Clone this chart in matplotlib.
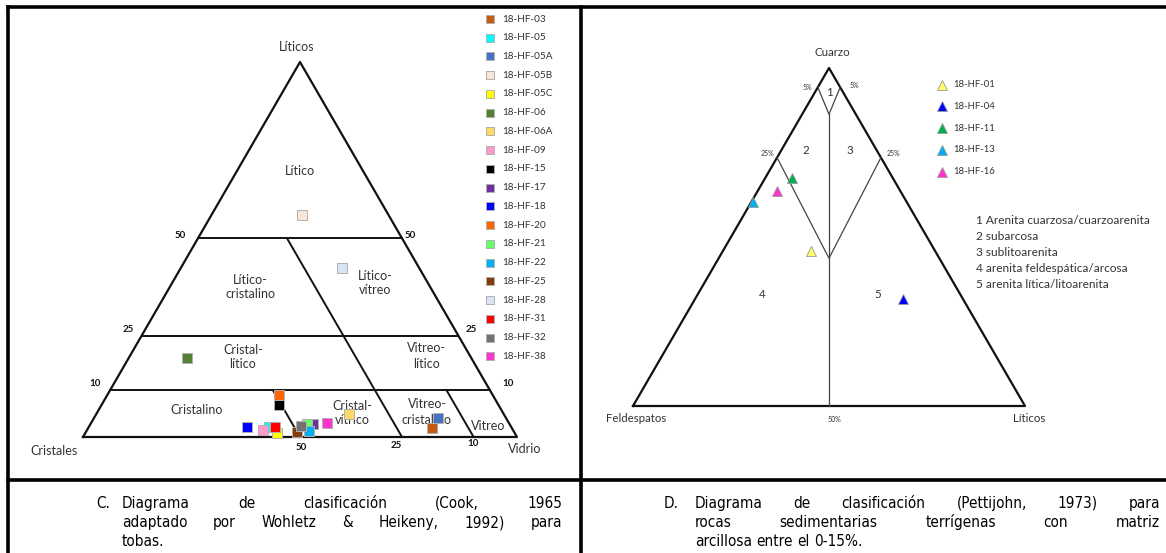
import matplotlib
matplotlib.use('Agg')
import matplotlib.pyplot as plt
from matplotlib import font_manager

# ---- data: panel C (Cristales, Vidrio, Liticos) in %
tobas_names = ['18-HF-03', '18-HF-05', '18-HF-05A', '18-HF-05B', '18-HF-05C', '18-HF-06',
               '18-HF-06A', '18-HF-09', '18-HF-15', '18-HF-17', '18-HF-18', '18-HF-20',
               '18-HF-21', '18-HF-22', '18-HF-25', '18-HF-28', '18-HF-31', '18-HF-32', '18-HF-38']
tobas_cristales = [18.3, 55.8, 15.6, 19.9, 54.9, 65.5, 35.6, 57.5, 50.5, 45.2, 60.9, 49.2,
                   46.8, 47.2, 50.0, 17.9, 54.4, 48.3, 42.0]
tobas_vidrio = [79.2, 41.6, 79.2, 20.9, 44.1, 13.4, 58.3, 40.6, 40.9, 51.4, 36.5, 39.6,
                49.8, 51.2, 48.7, 37.1, 43.0, 48.7, 54.3]
tobas_liticos = [2.5, 2.6, 5.2, 59.2, 1.0, 21.1, 6.1, 1.9, 8.6, 3.4, 2.6, 11.2,
                 3.4, 1.6, 1.3, 45.0, 2.6, 3.0, 3.7]
tobas_colors = ['#c55a11', '#00ffff', '#4472c4', '#fbe5d6', '#ffff00', '#548235',
                '#ffd966', '#ff99cc', '#000000', '#7030a0', '#0000ff', '#ff6600',
                '#66ff66', '#00b0f0', '#843c0c', '#dae3f3', '#ff0000', '#767171', '#ff33cc']

# ---- data: panel D (Cuarzo, Feldespatos, Liticos) in %
are_names = ['18-HF-01', '18-HF-04', '18-HF-11', '18-HF-13', '18-HF-16']
are_cuarzo = [46.0, 31.6, 67.4, 60.3, 63.7]
are_feldes = [31.7, 15.2, 25.8, 39.3, 31.4]
are_liticos = [22.3, 53.2, 6.8, 0.4, 4.9]
are_colors = ['#ffff66', '#0000ff', '#00b050', '#00b0f0', '#ff33cc']

# field boundaries (C, V, L) %
cook_lines = [
    [(47, 0, 53), (0, 47, 53)],
    [(73, 0, 27), (0, 73, 27)],
    [(87.5, 0, 12.5), (0, 87.5, 12.5)],
    [(26.5, 20.5, 53), (26.5, 73.5, 0)],
    [(50, 37.5, 12.5), (50, 50, 0)],
    [(10, 77.5, 12.5), (10, 90, 0)],
]
# (Q, F, L) %
pett_lines = [
    [(94.3, 5.7, 0), (86.3, 6.85, 6.85), (94.3, 0, 5.7)],
    [(86.3, 6.85, 6.85), (0, 50, 50)],
    [(73.5, 26.5, 0), (43.7, 28.15, 28.15), (73.5, 0, 26.5)],
]

pett_list = ['1 Arenita cuarzosa/cuarzoarenita', '2 subarcosa', '3 sublitoarenita',
             '4 arenita feldespática/arcosa', '5 arenita lítica/litoarenita']


# narrow font for the captions, if one is installed
def narrow_font():
    best = None
    for f in font_manager.fontManager.ttflist:
        n = (f.fname + ' ' + f.name).lower()
        if ('narrow' in n or 'condensed' in n) and 'bold' not in n and 'italic' not in n \
                and 'oblique' not in n and 'mono' not in n and 'serif' not in n.replace('sans', ''):
            if 'liberation' in n:
                return font_manager.FontProperties(fname=f.fname), True
            if best is None:
                best = f.fname
    if best:
        return font_manager.FontProperties(fname=best), True
    return font_manager.FontProperties(family='Liberation Sans'), False


cap_fp, is_narrow = narrow_font()
cap_fp.set_size(11 if is_narrow else 10)
dia_font = ['Lato', 'DejaVu Sans']

fig = plt.figure(figsize=(11.66, 5.53), dpi=100)
ax = fig.add_axes([0, 0, 1, 1])
ax.set_xlim(0, 1166)
ax.set_ylim(553, 0)
ax.axis('off')


# left triangle: Cristales BL, Vidrio BR, Liticos top
def tl(c, v, l):
    s = c + v + l
    v, l = v / s, l / s
    return 83 + 434 * (v + l / 2), 437 - 375 * l


# right triangle: Feldespatos BL, Liticos BR, Cuarzo top
def tr(q, f, l):
    s = q + f + l
    q, l = q / s, l / s
    return 633 + 392 * (l + q / 2), 406 - 338 * q


# table borders
bk = dict(color='black', lw=2.6, solid_capstyle='projecting')
ax.plot([8, 1166], [7, 7], **bk)
ax.plot([8, 8], [7, 553], **bk)
ax.plot([581, 581], [7, 553], **bk)
ax.plot([8, 1166], [480, 480], **bk)

# ---- panel C
out = [tl(100, 0, 0), tl(0, 100, 0), tl(0, 0, 100), tl(100, 0, 0)]
ax.plot([p[0] for p in out], [p[1] for p in out], color='#111111', lw=1.6, zorder=2)
for seg in cook_lines:
    pts = [tl(*p) for p in seg]
    ax.plot([p[0] for p in pts], [p[1] for p in pts], color='#111111', lw=1.4, zorder=2)

for i, name in enumerate(tobas_names):
    x, y = tl(tobas_cristales[i], tobas_vidrio[i], tobas_liticos[i])
    ax.plot(x, y, marker='s', ms=6.5, mfc=tobas_colors[i], mec='#b0b0b0', mew=0.7, zorder=4)
    ly = 19 + i * 18.74
    ax.plot(490, ly, marker='s', ms=6, mfc=tobas_colors[i], mec='#b0b0b0', mew=0.7)
    ax.text(502, ly, name, fontsize=7.2, family=dia_font, color='#333333', va='center', ha='left')

lab = dict(fontsize=9, family=dia_font, color='#333333', ha='center', va='center', linespacing=1.3)
ax.text(300, 171, 'Lítico', **lab)
ax.text(250, 287, 'Lítico-\ncristalino', **lab)
ax.text(375, 283, 'Lítico-\nvítreo', **lab)
ax.text(243, 357, 'Cristal-\nlítico', **lab)
ax.text(426, 356, 'Vitreo-\nlítico', **lab)
ax.text(197, 410, 'Cristalino', **lab)
ax.text(352, 413, 'Cristal-\nvítrico', **lab)
ax.text(427, 412, 'Vitreo-\ncristalino', **lab)
ax.text(488, 426, 'Vitreo', **lab)
ax.text(297, 47, 'Líticos', **lab)
ax.text(54, 451, 'Cristales', **lab)
ax.text(525, 449, 'Vidrio', **lab)

tk = dict(fontsize=7, family=dia_font, weight='bold', color='#111111', ha='center', va='center')
for txt, x, y in [('50', 180, 236), ('50', 410, 235), ('25', 128, 329), ('25', 471, 329),
                  ('10', 95, 384), ('10', 508, 383), ('50', 301, 447), ('25', 396, 446),
                  ('10', 473, 443)]:
    ax.text(x, y, txt, **tk)

# ---- panel D
out = [tr(0, 100, 0), tr(0, 0, 100), tr(100, 0, 0), tr(0, 100, 0)]
ax.plot([p[0] for p in out], [p[1] for p in out], color='#111111', lw=1.6, zorder=2)
for seg in pett_lines:
    pts = [tr(*p) for p in seg]
    ax.plot([p[0] for p in pts], [p[1] for p in pts], color='#444444', lw=0.9, zorder=2)

for i, name in enumerate(are_names):
    x, y = tr(are_cuarzo[i], are_feldes[i], are_liticos[i])
    ax.plot(x, y, marker='^', ms=7, mfc=are_colors[i], mec='#999999', mew=0.6, zorder=4)
    ly = 84.5 + i * 21.8
    ax.plot(942, ly, marker='^', ms=7, mfc=are_colors[i], mec='#999999', mew=0.6)
    ax.text(953, ly, name, fontsize=6.8, family=dia_font, color='#333333', va='center', ha='left')

for i, line in enumerate(pett_list):
    ax.text(976, 220 + i * 16, line, fontsize=8.6, family=dia_font, color='#333333',
            va='center', ha='left')

lab2 = dict(fontsize=8.3, family=dia_font, color='#333333', ha='center', va='center')
ax.text(832, 53, 'Cuarzo', **lab2)
ax.text(636, 418, 'Feldespatos', **lab2)
ax.text(1029, 418, 'Líticos', **lab2)
for txt, x, y in [('1', 829, 92), ('2', 806, 151), ('3', 850, 151), ('4', 762, 295), ('5', 878, 295)]:
    ax.text(x, y, txt, **lab2)
sm = dict(fontsize=5, family=dia_font, color='#333333', ha='center', va='center')
for txt, x, y in [('5%', 807, 87), ('5%', 854, 86), ('25%', 767, 154), ('25%', 893, 154),
                  ('50%', 834, 420)]:
    ax.text(x, y, txt, **sm)

# ---- captions (justified, words share one baseline)
renderer = fig.canvas.get_renderer()
cap = dict(fontproperties=cap_fp, color='black', va='baseline', ha='left')
t1 = ax.text(0, 0, 'a a', **cap)
t2 = ax.text(0, 0, 'aa', **cap)
sw = t1.get_window_extent(renderer).width - t2.get_window_extent(renderer).width
t1.remove()
t2.remove()


def justify(text, x0, x1, y, full=True):
    words = text.split()
    ts = [ax.text(0, y, w, **cap) for w in words]
    widths = [t.get_window_extent(renderer).width for t in ts]
    if full and len(words) > 1:
        gap = (x1 - x0 - sum(widths)) / (len(words) - 1)
    else:
        gap = sw
    x = x0
    for t, w in zip(ts, widths):
        t.set_x(x)
        x += w + gap


base = [508, 527, 546]
ax.text(96, base[0], 'C.', **cap)
justify('Diagrama de clasificación (Cook, 1965', 122, 562, base[0])
justify('adaptado por Wohletz & Heikeny, 1992) para', 122, 562, base[1])
justify('tobas.', 122, 562, base[2], full=False)

ax.text(664, base[0], 'D.', **cap)
justify('Diagrama de clasificación (Pettijohn, 1973) para', 695, 1160, base[0])
justify('rocas sedimentarias terrígenas con matriz', 695, 1160, base[1])
justify('arcillosa entre el 0-15%.', 695, 1160, base[2], full=False)

fig.savefig('out.png', dpi=100)
